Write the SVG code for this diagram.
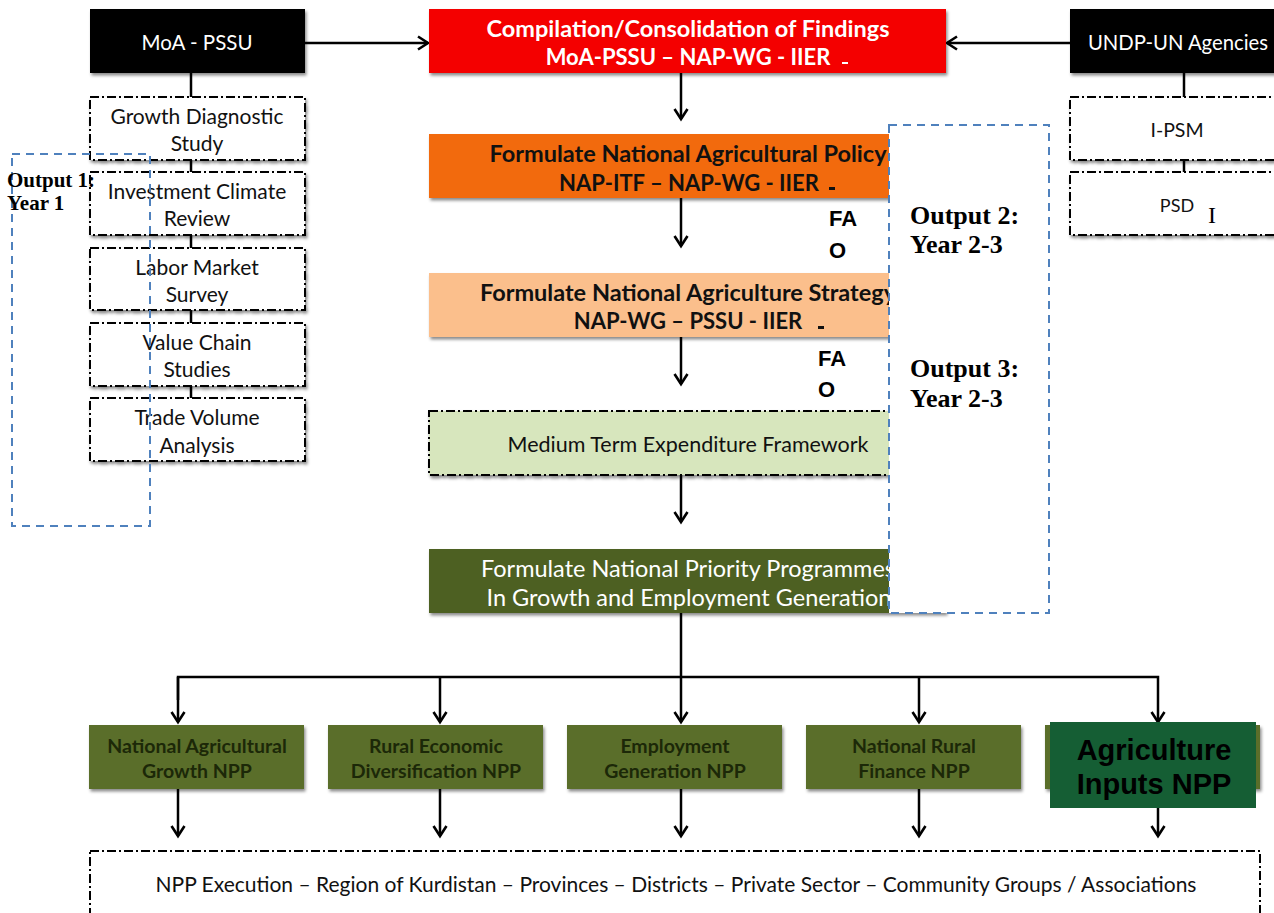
<svg xmlns="http://www.w3.org/2000/svg" width="1274" height="913" viewBox="0 0 1274 913">
<defs>
<filter id="sh" x="-5%" y="-10%" width="112%" height="130%"><feDropShadow dx="1.5" dy="2.5" stdDeviation="1.5" flood-color="#000" flood-opacity="0.45"/></filter>
<marker id="ah" markerWidth="14" markerHeight="16" refX="11" refY="8" orient="auto" markerUnits="userSpaceOnUse" viewBox="0 0 14 16">
<path d="M1,1.5 L11,8 L1,14.5" fill="none" stroke="#000" stroke-width="2.6"/>
</marker>
</defs>
<style>
.t{font-family:Lato,"Open Sans","Liberation Sans",sans-serif;text-anchor:middle}
.w{fill:#fff}
.b{font-weight:bold}
.dd{fill:#fff;stroke:#000;stroke-width:2;stroke-dasharray:9 3 2 3}
.blue{fill:none;stroke:#4f81bd;stroke-width:2;stroke-dasharray:8 6}
.c{fill:none;stroke:#000;stroke-width:2.5}
.o{font-family:"Liberation Serif","Times New Roman",serif;font-weight:bold;fill:#000}
.npp{fill:#5a6e2a;filter:url(#sh)}
.nt{font-family:Lato,"Open Sans","Liberation Sans",sans-serif;text-anchor:middle;font-weight:bold;font-size:19.5px;fill:#1c2808}
.s{font-size:21px;fill:#111}
.big{font-size:23.5px}
.sub{font-size:22px}
.fao{font-family:"Liberation Sans",Arial,sans-serif;font-weight:bold;font-size:22px}
</style>
<rect width="1274" height="913" fill="#fff"/>

<g id="connectors">
<line class="c" x1="305" y1="43" x2="428" y2="43" marker-end="url(#ah)"/>
<line class="c" x1="1070" y1="43" x2="947" y2="43" marker-end="url(#ah)"/>
<line class="c" x1="681" y1="73" x2="681" y2="119" marker-end="url(#ah)"/>
<line class="c" x1="681" y1="198" x2="681" y2="246" marker-end="url(#ah)"/>
<line class="c" x1="681" y1="337" x2="681" y2="384" marker-end="url(#ah)"/>
<line class="c" x1="681" y1="475" x2="681" y2="522" marker-end="url(#ah)"/>
<line class="c" x1="191" y1="73" x2="191" y2="97"/>
<line class="c" x1="191" y1="160" x2="191" y2="172"/>
<line class="c" x1="191" y1="235" x2="191" y2="248"/>
<line class="c" x1="191" y1="310" x2="191" y2="323"/>
<line class="c" x1="191" y1="386" x2="191" y2="398"/>
<line class="c" x1="1184" y1="73" x2="1184" y2="97"/>
<line class="c" x1="1184" y1="160" x2="1184" y2="172"/>
<line class="c" x1="681" y1="613" x2="681" y2="722" marker-end="url(#ah)"/>
<polyline class="c" points="178,700 178,677 1158,677 1158,722" marker-end="url(#ah)"/>
<line class="c" x1="178" y1="677" x2="178" y2="722" marker-end="url(#ah)"/>
<line class="c" x1="440" y1="677" x2="440" y2="722" marker-end="url(#ah)"/>
<line class="c" x1="919" y1="677" x2="919" y2="722" marker-end="url(#ah)"/>
<line class="c" x1="178" y1="789" x2="178" y2="836" marker-end="url(#ah)"/>
<line class="c" x1="440" y1="789" x2="440" y2="836" marker-end="url(#ah)"/>
<line class="c" x1="681" y1="789" x2="681" y2="836" marker-end="url(#ah)"/>
<line class="c" x1="919" y1="789" x2="919" y2="836" marker-end="url(#ah)"/>
<line class="c" x1="1158" y1="808" x2="1158" y2="836" marker-end="url(#ah)"/>
</g>

<g id="moa">
<rect x="90" y="9" width="215" height="64" fill="#000" filter="url(#sh)"/>
<text class="t w" x="197" y="50" font-size="20.5">MoA - PSSU</text>
</g>
<g id="undp">
<rect x="1070" y="9" width="210" height="64" fill="#000" filter="url(#sh)"/>
<text class="t w" x="1178" y="50" font-size="20.3">UNDP-UN Agencies</text>
</g>
<g id="compilation">
<rect x="429" y="9" width="517" height="64" fill="#f40000" filter="url(#sh)"/>
<text class="t w b big" x="688" y="37">Compilation/Consolidation of Findings</text>
<text class="t w b sub" x="688" y="65">MoA-PSSU – NAP-WG - IIER</text>
<rect x="842" y="62" width="6" height="2" fill="#fff"/>
</g>

<g id="growth-diagnostic"><rect class="dd" x="90" y="97" width="215" height="63" filter="url(#sh)"/>
<text class="t s" x="197" y="124">Growth Diagnostic</text><text class="t s" x="197" y="151">Study</text></g>
<g id="investment-climate"><rect class="dd" x="90" y="172" width="215" height="63" filter="url(#sh)"/>
<text class="t s" x="197" y="199">Investment Climate</text><text class="t s" x="197" y="226">Review</text></g>
<g id="labor-market"><rect class="dd" x="90" y="248" width="215" height="62" filter="url(#sh)"/>
<text class="t s" x="197" y="275">Labor Market</text><text class="t s" x="197" y="302">Survey</text></g>
<g id="value-chain"><rect class="dd" x="90" y="323" width="215" height="63" filter="url(#sh)"/>
<text class="t s" x="197" y="350">Value Chain</text><text class="t s" x="197" y="377">Studies</text></g>
<g id="trade-volume"><rect class="dd" x="90" y="398" width="215" height="63" filter="url(#sh)"/>
<text class="t s" x="197" y="425">Trade Volume</text><text class="t s" x="197" y="453">Analysis</text></g>

<g id="ipsm"><rect class="dd" x="1070" y="97" width="215" height="63" filter="url(#sh)"/>
<text class="t" x="1177" y="137" font-size="19.5" fill="#111">I-PSM</text></g>
<g id="psd"><rect class="dd" x="1070" y="172" width="215" height="63" filter="url(#sh)"/>
<text class="t" x="1177" y="212" font-size="18" fill="#111">PSD</text>
<text x="1212" y="223" font-family="Liberation Serif,serif" font-size="24" text-anchor="middle">I</text></g>

<g id="policy">
<rect x="429" y="134" width="517" height="64" fill="#f26a10" filter="url(#sh)"/>
<text class="t b big" x="688" y="162" fill="#111">Formulate National Agricultural Policy</text>
<text class="t b sub" x="689" y="191" fill="#111">NAP-ITF – NAP-WG - IIER</text>
<rect x="829" y="187" width="6" height="3" fill="#111"/>
</g>
<g id="strategy">
<rect x="429" y="273" width="517" height="64" fill="#fbbf8c" filter="url(#sh)"/>
<text class="t b big" x="688" y="301" fill="#111">Formulate National Agriculture Strategy</text>
<text class="t b sub" x="688" y="329" fill="#111">NAP-WG – PSSU - IIER</text>
<rect x="818" y="326" width="6" height="3" fill="#111"/>
</g>
<g id="mtef">
<rect class="dd" x="429" y="411" width="517" height="64" style="fill:#d7e6bd" filter="url(#sh)"/>
<text class="t" x="688" y="452" font-size="21.5" fill="#111">Medium Term Expenditure Framework</text>
</g>
<g id="npp-formulate">
<rect x="429" y="549" width="517" height="64" fill="#4e6124" filter="url(#sh)"/>
<text class="t w big" x="688" y="577">Formulate National Priority Programmes</text>
<text class="t w big" x="689" y="606">In Growth and Employment Generation</text>
</g>

<g id="output23">
<rect class="blue" x="889" y="125" width="160" height="488" style="fill:#fff"/>
<text class="o" x="910" y="224" font-size="26">Output 2:</text>
<text class="o" x="910" y="253" font-size="26">Year 2-3</text>
<text class="o" x="910" y="377" font-size="26">Output 3:</text>
<text class="o" x="910" y="407" font-size="26">Year 2-3</text>
</g>
<g id="fao1"><text class="fao" x="829" y="226">FA</text><text class="fao" x="829" y="258">O</text></g>
<g id="fao2"><text class="fao" x="818" y="366">FA</text><text class="fao" x="818" y="397">O</text></g>

<g id="output1">
<rect class="blue" x="12" y="154" width="138" height="372"/>
<text class="o" x="7" y="187" font-size="21">Output 1:</text>
<text class="o" x="7" y="210" font-size="21">Year 1</text>
</g>

<g id="npp-growth"><rect class="npp" x="89" y="725" width="215" height="64"/>
<text class="nt" x="197" y="753">National Agricultural</text><text class="nt" x="197" y="778">Growth NPP</text></g>
<g id="npp-rural"><rect class="npp" x="328" y="725" width="215" height="64"/>
<text class="nt" x="436" y="753">Rural Economic</text><text class="nt" x="436" y="778">Diversification NPP</text></g>
<g id="npp-employment"><rect class="npp" x="567" y="725" width="215" height="64"/>
<text class="nt" x="675" y="753">Employment</text><text class="nt" x="675" y="778">Generation NPP</text></g>
<g id="npp-finance"><rect class="npp" x="806" y="725" width="215" height="64"/>
<text class="nt" x="914" y="753">National Rural</text><text class="nt" x="914" y="778">Finance  NPP</text></g>
<g id="npp-inputs"><rect class="npp" x="1045" y="725" width="215" height="64"/>
<rect x="1050" y="722" width="206" height="86" fill="#155e34"/>
<text x="1154" y="760" font-family="Liberation Sans,Arial,sans-serif" font-weight="bold" font-size="29" text-anchor="middle">Agriculture</text>
<text x="1154" y="794" font-family="Liberation Sans,Arial,sans-serif" font-weight="bold" font-size="29" text-anchor="middle">Inputs NPP</text></g>

<g id="execution">
<rect class="dd" x="90" y="851" width="1170" height="70"/>
<text class="t" x="676" y="892" font-size="21" fill="#111">NPP Execution – Region of Kurdistan – Provinces – Districts – Private Sector – Community Groups / Associations</text>
</g>
</svg>
